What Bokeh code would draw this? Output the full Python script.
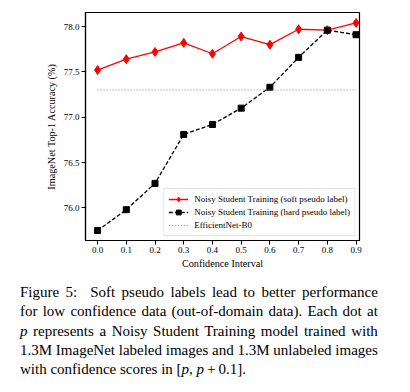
from bokeh.plotting import figure
from bokeh.models import Range1d, FixedTicker, NumeralTickFormatter, Div, Legend, LegendItem
from bokeh.layouts import column
from bokeh.embed import file_html
from bokeh.resources import INLINE

# ---- data ----
confidence = [0.0, 0.1, 0.2, 0.3, 0.4, 0.5, 0.6, 0.7, 0.8, 0.9]
soft_acc = [77.52, 77.64, 77.72, 77.82, 77.70, 77.89, 77.80, 77.97, 77.96, 78.04]
hard_acc = [75.75, 75.98, 76.27, 76.81, 76.92, 77.10, 77.33, 77.66, 77.96, 77.91]
b0_acc = 77.30
x_ticks = [0.0, 0.1, 0.2, 0.3, 0.4, 0.5, 0.6, 0.7, 0.8, 0.9]
y_ticks = [76.0, 76.5, 77.0, 77.5, 78.0]
labels = ["Noisy Student Training (soft pseudo label)",
          "Noisy Student Training (hard pseudo label)",
          "EfficientNet-B0"]

FONT = "'Liberation Serif', serif"

p = figure(width=402, height=272, output_backend="svg", toolbar_location=None,
           x_range=Range1d(-0.042, 0.912), y_range=Range1d(75.64, 78.155),
           min_border_left=85, min_border_right=43, min_border_top=12, min_border_bottom=32)
p.background_fill_color = "white"
p.border_fill_color = "white"
p.outline_line_color = "black"
p.outline_line_width = 1.2
p.xgrid.visible = False
p.ygrid.visible = False

for ax in (p.xaxis[0], p.yaxis[0]):
    ax.major_label_text_font = FONT
    ax.major_label_text_font_size = "9px"
    ax.major_label_text_color = "black"
    ax.axis_label_text_font = FONT
    ax.axis_label_text_font_size = "10.2px"
    ax.axis_label_text_font_style = "normal"
    ax.axis_label_text_color = "black"
    ax.axis_line_color = "black"
    ax.axis_line_width = 1.2
    ax.major_tick_line_color = "black"
    ax.major_tick_out = 4
    ax.major_tick_in = 0
    ax.minor_tick_line_color = None
    ax.major_label_standoff = 2
    ax.formatter = NumeralTickFormatter(format="0.0")

p.xaxis.ticker = FixedTicker(ticks=x_ticks)
p.yaxis.ticker = FixedTicker(ticks=y_ticks)
p.xaxis.axis_label = "Confidence Interval"
p.yaxis.axis_label = "ImageNet Top-1 Accuracy (%)"
p.xaxis.axis_label_standoff = 2
p.yaxis.axis_label_standoff = 4

soft_line = p.line(confidence, soft_acc, line_color="red", line_width=1.3)
soft_pts = p.scatter(confidence, soft_acc, marker="diamond", size=9,
                     fill_color="red", line_color="red")
hard_line = p.line(confidence, hard_acc, line_color="black", line_width=1.3, line_dash="4 2")
hard_pts = p.scatter(confidence, hard_acc, marker="square", size=6,
                     fill_color="black", line_color="black")
b0_line = p.line([confidence[0], confidence[-1]], [b0_acc, b0_acc],
                 line_color="#8a8f99", line_width=1.1, line_dash="1 2")

legend = Legend(items=[
    LegendItem(label=labels[0], renderers=[soft_line, soft_pts]),
    LegendItem(label=labels[1], renderers=[hard_line, hard_pts]),
    LegendItem(label=labels[2], renderers=[b0_line]),
], location="bottom_right")
legend.label_text_font = FONT
legend.label_text_font_size = "9px"
legend.label_text_color = "black"
legend.glyph_width = 20
legend.glyph_height = 12
legend.label_height = 12
legend.spacing = 1
legend.padding = 4
legend.margin = 4
legend.label_standoff = 6
legend.border_line_color = "#cccccc"
legend.border_line_width = 1
legend.background_fill_alpha = 0.9
p.add_layout(legend)

line_style = "text-align: justify; text-align-last: justify;"
caption_html = (
    f'<div style="font-family: {FONT}; font-size: 15px; line-height: 19.25px; color: black;">'
    f'<div style="{line_style}">Figure 5:&nbsp; Soft pseudo labels lead to better performance</div>'
    f'<div style="{line_style}">for low confidence data (out-of-domain data). Each dot at</div>'
    f'<div style="{line_style}"><i>p</i> represents a Noisy Student Training model trained with</div>'
    f'<div style="{line_style}">1.3M ImageNet labeled images and 1.3M unlabeled images</div>'
    f'<div>with confidence scores in [<i>p</i>, <i>p</i>&thinsp;+&thinsp;0.1].</div>'
    '</div>'
)
caption = Div(text=caption_html, width=366, margin=(11, 0, 0, 20))

layout = column(p, caption, spacing=0)
open("out.html", "w").write(file_html(layout, INLINE))
